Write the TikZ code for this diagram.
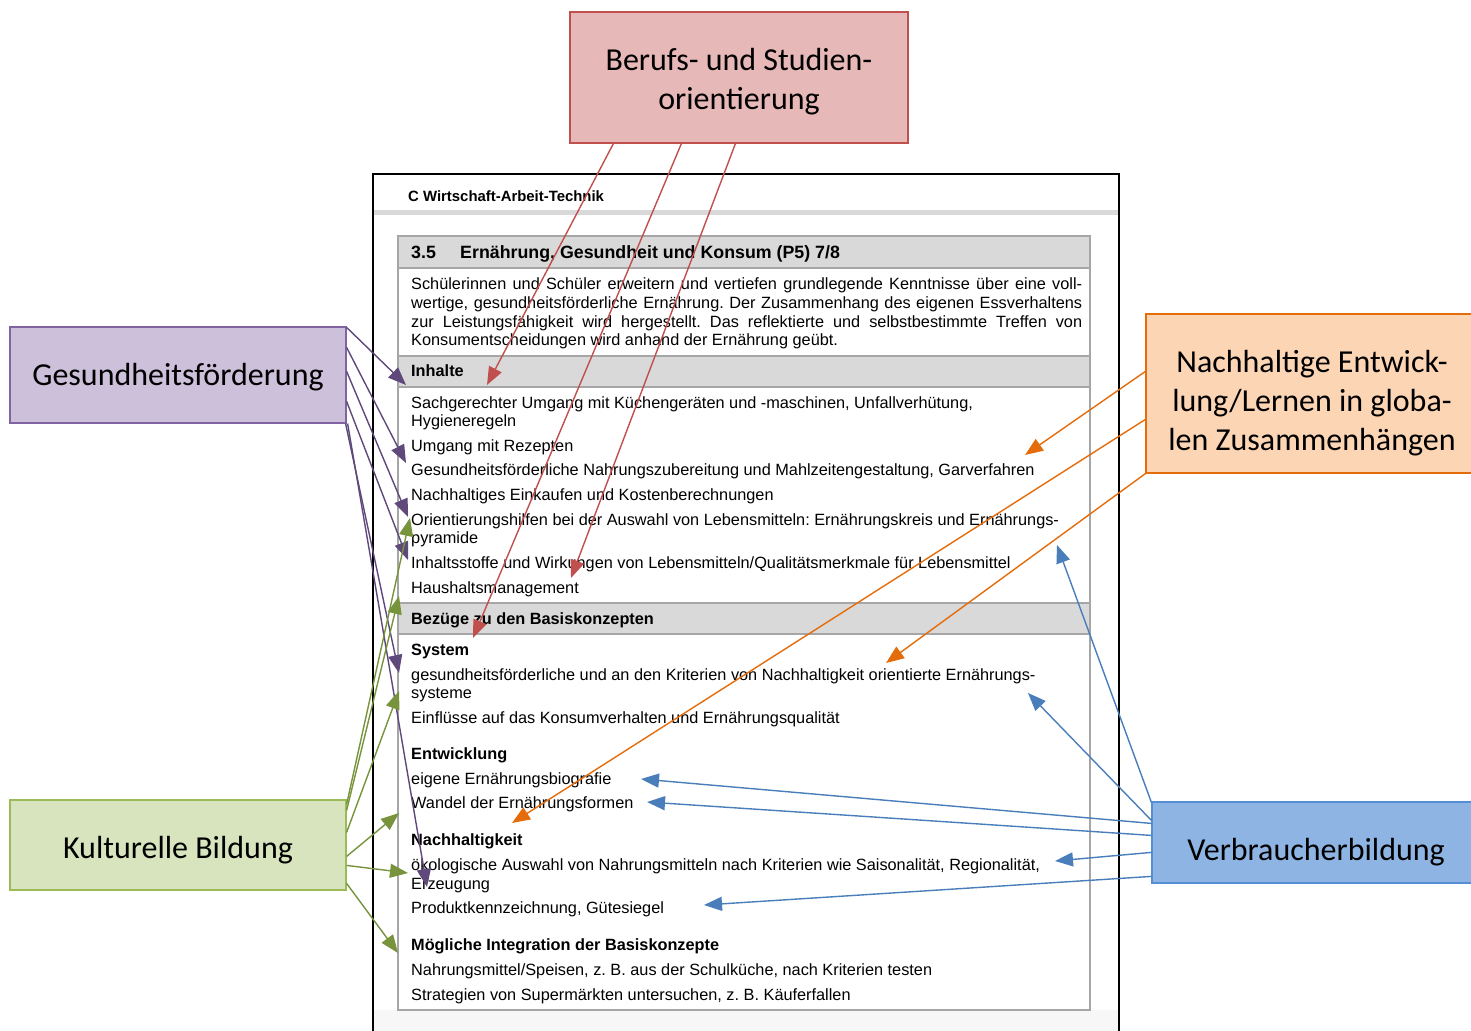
\documentclass[tikz,border=0pt]{standalone}
\usepackage{fontspec}
\setmainfont{Liberation Sans}
\newfontfamily\boxfont{Carlito}
\usetikzlibrary{arrows.meta}
\definecolor{cred}{HTML}{C0504D}
\definecolor{credfill}{HTML}{E6B8B7}
\definecolor{cpur}{HTML}{5F497A}
\definecolor{cpurline}{HTML}{8064A2}
\definecolor{cpurfill}{HTML}{CCC0DA}
\definecolor{cgrn}{HTML}{77933C}
\definecolor{cgrnline}{HTML}{9BBB59}
\definecolor{cgrnfill}{HTML}{D7E4BD}
\definecolor{corg}{HTML}{E46C0A}
\definecolor{corgfill}{HTML}{FCD5B5}
\definecolor{cblu}{HTML}{4A7EBB}
\definecolor{cbluline}{HTML}{558ED5}
\definecolor{cblufill}{HTML}{8EB4E3}
\definecolor{rowgray}{HTML}{D9D9D9}
\definecolor{tabline}{HTML}{A6A6A6}
\frenchspacing
\begin{document}
\begin{tikzpicture}[x=1pt,y=-1pt,
  cbox/.style={draw, line width=1.2pt, inner sep=0pt},
  lbl/.style={align=center, inner sep=0pt, font=\boxfont\fontsize{32}{39}\selectfont},
  doc/.style={anchor=base west, inner sep=0pt, font=\fontsize{16.3}{19}\selectfont},
  docb/.style={anchor=base west, inner sep=0pt, font=\bfseries\fontsize{16.3}{19}\selectfont},
  con/.style={line width=1.4pt, -{Triangle[length=18pt,width=14pt]}}
]
\useasboundingbox (0,0) rectangle (1471,1030);
\fill[white] (0,0) rectangle (1471,1030);

% document page
\fill[gray!6] (374,1010) rectangle (1118,1032);
\draw[line width=2pt] (373,1040) -- (373,174) -- (1119,174) -- (1119,1040);
\fill[rowgray] (374,210) rectangle (1118,215);
\node[docb, font=\bfseries\fontsize{14.9}{17}\selectfont] (hdr) at (408,201) {C Wirtschaft-Arbeit-Technik};

% table
\fill[rowgray] (398,236) rectangle (1090,268);
\fill[rowgray] (398,356) rectangle (1090,387);
\fill[rowgray] (398,603) rectangle (1090,634);
\draw[tabline, line width=1.2pt] (398,236) rectangle (1090,1010);
\draw[tabline, line width=1.2pt] (398,268) -- (1090,268) (398,356) -- (1090,356) (398,387) -- (1090,387)
  (398,603) -- (1090,603) (398,634) -- (1090,634);

\node[docb, font=\bfseries\fontsize{17.8}{20}\selectfont] (t0a) at (411,258) {3.5};
\node[docb, font=\bfseries\fontsize{17.8}{20}\selectfont] (t0b) at (460,258) {Ernährung, Gesundheit und Konsum (P5) 7/8};

\node[doc] (i1) at (411,289) {\makebox[671pt][s]{Schülerinnen und Schüler erweitern und vertiefen grundlegende Kenntnisse über eine voll-}};
\node[doc] (i2) at (411,308) {\makebox[671pt][s]{wertige, gesundheitsförderliche Ernährung. Der Zusammenhang des eigenen Essverhaltens}};
\node[doc] (i3) at (411,327) {\makebox[671pt][s]{zur Leistungsfähigkeit wird hergestellt. Das reflektierte und selbstbestimmte Treffen von}};
\node[doc] (i4) at (411,345) {Konsumentscheidungen wird anhand der Ernährung geübt.};

\node[docb] (h1) at (411,376) {Inhalte};
\node[doc] (a1) at (411,408) {Sachgerechter Umgang mit Küchengeräten und -maschinen, Unfallverhütung,};
\node[doc] (a2) at (411,426) {Hygieneregeln};
\node[doc] (a3) at (411,451) {Umgang mit Rezepten};
\node[doc] (a4) at (411,475) {Gesundheitsförderliche Nahrungszubereitung und Mahlzeitengestaltung, Garverfahren};
\node[doc] (a5) at (411,500) {Nachhaltiges Einkaufen und Kostenberechnungen};
\node[doc] (a6) at (411,525) {Orientierungshilfen bei der Auswahl von Lebensmitteln: Ernährungskreis und Ernährungs-};
\node[doc] (a7) at (411,543) {pyramide};
\node[doc] (a8) at (411,568) {Inhaltsstoffe und Wirkungen von Lebensmitteln/Qualitätsmerkmale für Lebensmittel};
\node[doc] (a9) at (411,593) {Haushaltsmanagement};

\node[docb] (h2) at (411,624) {Bezüge zu den Basiskonzepten};
\node[docb] (s0) at (411,655) {System};
\node[doc] (s1) at (411,680) {gesundheitsförderliche und an den Kriterien von Nachhaltigkeit orientierte Ernährungs-};
\node[doc] (s2) at (411,698) {systeme};
\node[doc] (s3) at (411,723) {Einflüsse auf das Konsumverhalten und Ernährungsqualität};
\node[docb] (e0) at (411,759) {Entwicklung};
\node[doc] (e1) at (411,784) {eigene Ernährungsbiografie};
\node[doc] (e2) at (411,808) {Wandel der Ernährungsformen};
\node[docb] (n0) at (411,845) {Nachhaltigkeit};
\node[doc] (n1) at (411,870) {ökologische Auswahl von Nahrungsmitteln nach Kriterien wie Saisonalität, Regionalität,};
\node[doc] (n2) at (411,889) {Erzeugung};
\node[doc] (n3) at (411,913) {Produktkennzeichnung, Gütesiegel};
\node[docb] (m0) at (411,950) {Mögliche Integration der Basiskonzepte};
\node[doc] (m1) at (411,975) {Nahrungsmittel/Speisen, z. B. aus der Schulküche, nach Kriterien testen};
\node[doc] (m2) at (411,1000) {Strategien von Supermärkten untersuchen, z. B. Käuferfallen};

% category boxes
\node[cbox, draw=cred, fill=credfill, minimum width=338pt, minimum height=131pt] (bs) at (739,77.5) {};
\node[lbl] (bsl) at (739,82) {Berufs- und Studien-\\orientierung};
\node[cbox, draw=cpurline, fill=cpurfill, minimum width=336pt, minimum height=96pt] (gf) at (178,375) {};
\node[lbl] (gfl) at (178,377) {Gesundheitsförderung};
\node[cbox, draw=cgrnline, fill=cgrnfill, minimum width=336pt, minimum height=90pt] (kb) at (178,845) {};
\node[lbl] (kbl) at (178,850) {Kulturelle Bildung};
\node[cbox, draw=corg, fill=corgfill, minimum width=330pt, minimum height=159pt] (ne) at (1311,393.5) {};
\node[lbl] (nel) at (1312,403) {Nachhaltige Entwick-\\lung/Lernen in globa-\\len Zusammenhängen};
\node[cbox, draw=cbluline, fill=cblufill, minimum width=324pt, minimum height=81pt] (vb) at (1314,842.5) {};
\node[lbl] (vbl) at (1316,852) {Verbraucherbildung};

% targets
\coordinate (r1) at (487,385);
\coordinate (r2) at (473,638);
\coordinate (r3) at (571,578);
\coordinate (p1) at (406,385);
\coordinate (p2) at (406,463);
\coordinate (p3) at (408,517);
\coordinate (p4) at (408,560);
\coordinate (p5) at (399,673);
\coordinate (p6) at (427,887);
\coordinate (g1) at (410,518);
\coordinate (g2) at (399,596);
\coordinate (g3) at (399,691);
\coordinate (g4) at (399,813);
\coordinate (g5) at (408,873);
\coordinate (g6) at (398,953);
\coordinate (o1) at (1025,455);
\coordinate (o2) at (512,823);
\coordinate (o3) at (886,663);
\coordinate (b1) at (1057,545);
\coordinate (b2) at (1028,693);
\coordinate (b3) at (641,779);
\coordinate (b4) at (647,802);
\coordinate (b5) at (1055,861);
\coordinate (b6) at (704,905);

% connectors
\begin{scope}[con, draw=cred, fill=cred]
\draw ([xshift=44pt]bs.south west) -- (r1);
\draw ([xshift=112pt]bs.south west) -- (r2);
\draw ([xshift=166pt]bs.south west) -- (r3);
\end{scope}
\begin{scope}[con, draw=cpur, fill=cpur]
\draw ([yshift=-1pt]gf.north east) -- (p1);
\draw ([yshift=-21pt]gf.north east) -- (p2);
\draw ([yshift=-45pt]gf.north east) -- (p3);
\draw ([yshift=-75pt]gf.north east) -- (p4);
\draw ([xshift=-1pt]gf.south east) -- (p5);
\draw ([xshift=1pt]gf.south east) -- (p6);
\end{scope}
\begin{scope}[con, draw=cgrn, fill=cgrn]
\draw ([yshift=-5pt]kb.north east) -- (g1);
\draw ([yshift=-11pt]kb.north east) -- (g2);
\draw ([yshift=-33pt]kb.north east) -- (g3);
\draw ([yshift=-57pt]kb.north east) -- (g4);
\draw ([yshift=-66pt]kb.north east) -- (g5);
\draw ([yshift=-84pt]kb.north east) -- (g6);
\end{scope}
\begin{scope}[con, draw=corg, fill=corg]
\draw ([yshift=-58pt]ne.north west) -- (o1);
\draw ([yshift=-106pt]ne.north west) -- (o2);
\draw (ne.south west) -- (o3);
\end{scope}
\begin{scope}[con, draw=cblu, fill=cblu]
\draw ([yshift=-1pt]vb.north west) -- (b1);
\draw ([yshift=-19pt]vb.north west) -- (b2);
\draw ([yshift=-22pt]vb.north west) -- (b3);
\draw ([yshift=-34pt]vb.north west) -- (b4);
\draw ([yshift=-51pt]vb.north west) -- (b5);
\draw ([yshift=-75pt]vb.north west) -- (b6);
\end{scope}
\end{tikzpicture}
\end{document}
